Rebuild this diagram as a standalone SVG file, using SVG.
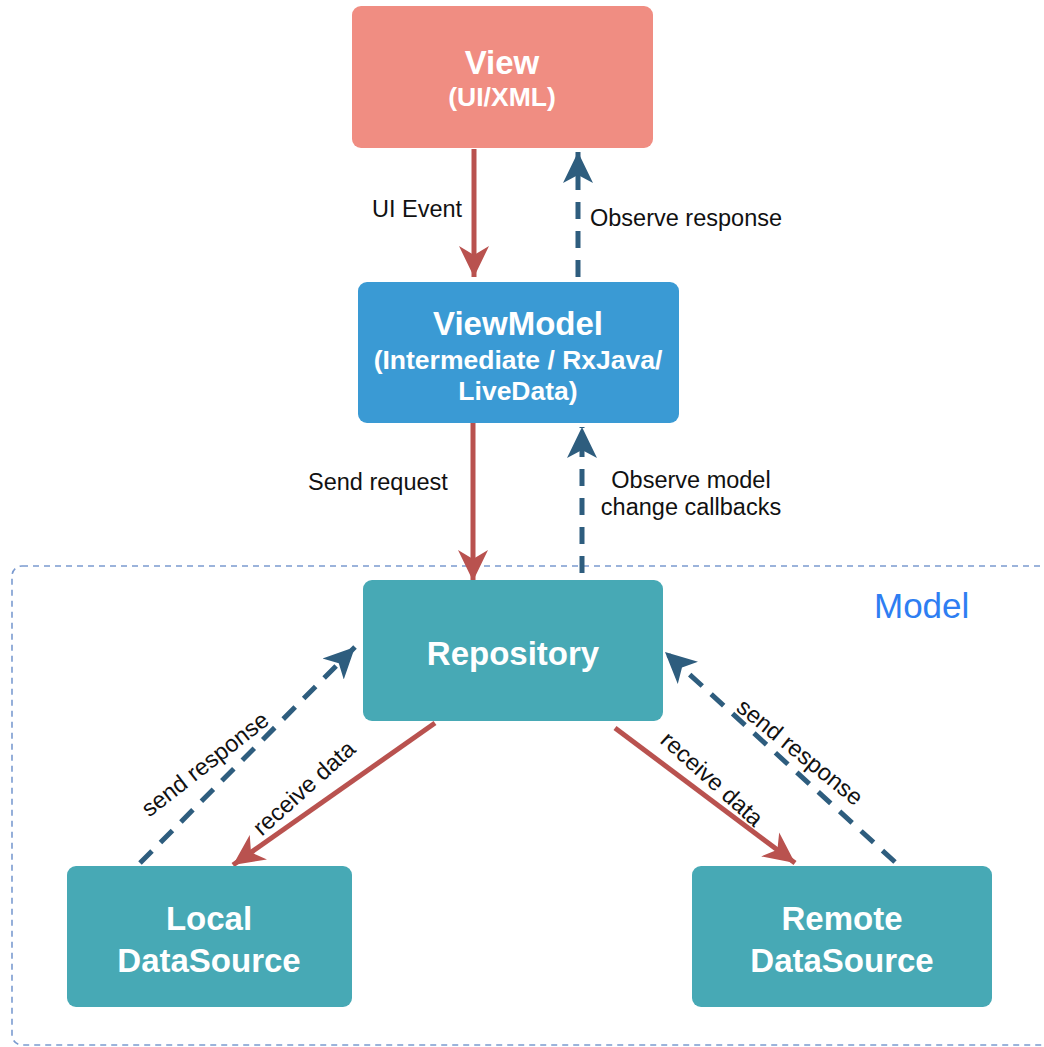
<svg xmlns="http://www.w3.org/2000/svg" width="1044" height="1047" viewBox="0 0 1044 1047">
<style>
.title{font-family:"Liberation Sans",Arial,sans-serif;font-weight:bold;font-size:33px;fill:#ffffff;text-anchor:middle}
.sub{font-family:"Liberation Sans",Arial,sans-serif;font-weight:bold;font-size:26.5px;fill:#ffffff;text-anchor:middle}
.lbl{font-family:"Liberation Sans",Arial,sans-serif;font-size:23.5px;fill:#111111}
.req{fill:none;stroke:#b9524f;stroke-width:5}
.obs{fill:none;stroke:#2e5d7e;stroke-width:5;stroke-dasharray:17 12}
.teal{fill:#47a9b5}
</style>
<defs>
<marker id="arrRed" markerUnits="userSpaceOnUse" markerWidth="32" markerHeight="32" viewBox="0 0 32 32" refX="31" refY="16" orient="auto">
<path d="M0,1 L31,16 L0,31 L9,16 Z" fill="#b9524f"/>
</marker>
<marker id="arrBlue" markerUnits="userSpaceOnUse" markerWidth="32" markerHeight="32" viewBox="0 0 32 32" refX="31" refY="16" orient="auto">
<path d="M0,1 L31,16 L0,31 L8,16 Z" fill="#2e5d7e"/>
</marker>
</defs>
<rect width="1044" height="1047" fill="#ffffff"/>
<g id="model-container">
<rect x="12" y="566" width="1060" height="479" rx="10" fill="none" stroke="#7b9bd0" stroke-width="1.6" stroke-dasharray="6 5"/>
<text x="874" y="618" font-family="Liberation Sans, Arial, sans-serif" font-size="35" fill="#2e7ef2">Model</text>
</g>
<g id="connectors">
<line class="req" x1="474" y1="149" x2="474" y2="277" marker-end="url(#arrRed)"/>
<line class="obs" x1="578" y1="277" x2="578" y2="152" marker-end="url(#arrBlue)"/>
<line class="req" x1="473" y1="423" x2="473" y2="581" marker-end="url(#arrRed)"/>
<line class="obs" x1="582" y1="573" x2="582" y2="427" marker-end="url(#arrBlue)"/>
<line class="req" x1="435" y1="723" x2="233" y2="865" marker-end="url(#arrRed)"/>
<line class="obs" x1="140" y1="863" x2="355" y2="647" marker-end="url(#arrBlue)"/>
<line class="req" x1="615" y1="728" x2="795" y2="863" marker-end="url(#arrRed)"/>
<line class="obs" x1="895" y1="862" x2="665" y2="652" marker-end="url(#arrBlue)"/>
<text class="lbl" x="372" y="217">UI Event</text>
<text class="lbl" x="590" y="226">Observe response</text>
<text class="lbl" x="308" y="490">Send request</text>
<text class="lbl" x="691" y="488" text-anchor="middle">Observe model</text>
<text class="lbl" x="691" y="515" text-anchor="middle">change callbacks</text>
<text class="lbl" transform="translate(205,764) rotate(-38)" x="0" y="8" text-anchor="middle">send response</text>
<text class="lbl" transform="translate(304,788) rotate(-42)" x="0" y="8" text-anchor="middle">receive data</text>
<text class="lbl" transform="translate(712,779) rotate(42)" x="0" y="8" text-anchor="middle">receive data</text>
<text class="lbl" transform="translate(800,752) rotate(39)" x="0" y="8" text-anchor="middle">send response</text>
</g>
<g id="view">
<rect x="352" y="6" width="301" height="142" rx="9" fill="#f08d82"/>
<text class="title" x="502" y="74">View</text>
<text class="sub" x="502" y="106">(UI/XML)</text>
</g>
<g id="viewmodel">
<rect x="358" y="282" width="321" height="141" rx="9" fill="#3a9ad4"/>
<text class="title" x="518" y="335">ViewModel</text>
<text class="sub" x="518" y="369">(Intermediate / RxJava/</text>
<text class="sub" x="518" y="400">LiveData)</text>
</g>
<g id="repository">
<rect class="teal" x="363" y="580" width="300" height="141" rx="9"/>
<text class="title" x="513" y="665">Repository</text>
</g>
<g id="local-datasource">
<rect class="teal" x="67" y="866" width="285" height="141" rx="9"/>
<text class="title" x="209" y="930">Local</text>
<text class="title" x="209" y="972">DataSource</text>
</g>
<g id="remote-datasource">
<rect class="teal" x="692" y="866" width="300" height="141" rx="9"/>
<text class="title" x="842" y="930">Remote</text>
<text class="title" x="842" y="972">DataSource</text>
</g>
</svg>
